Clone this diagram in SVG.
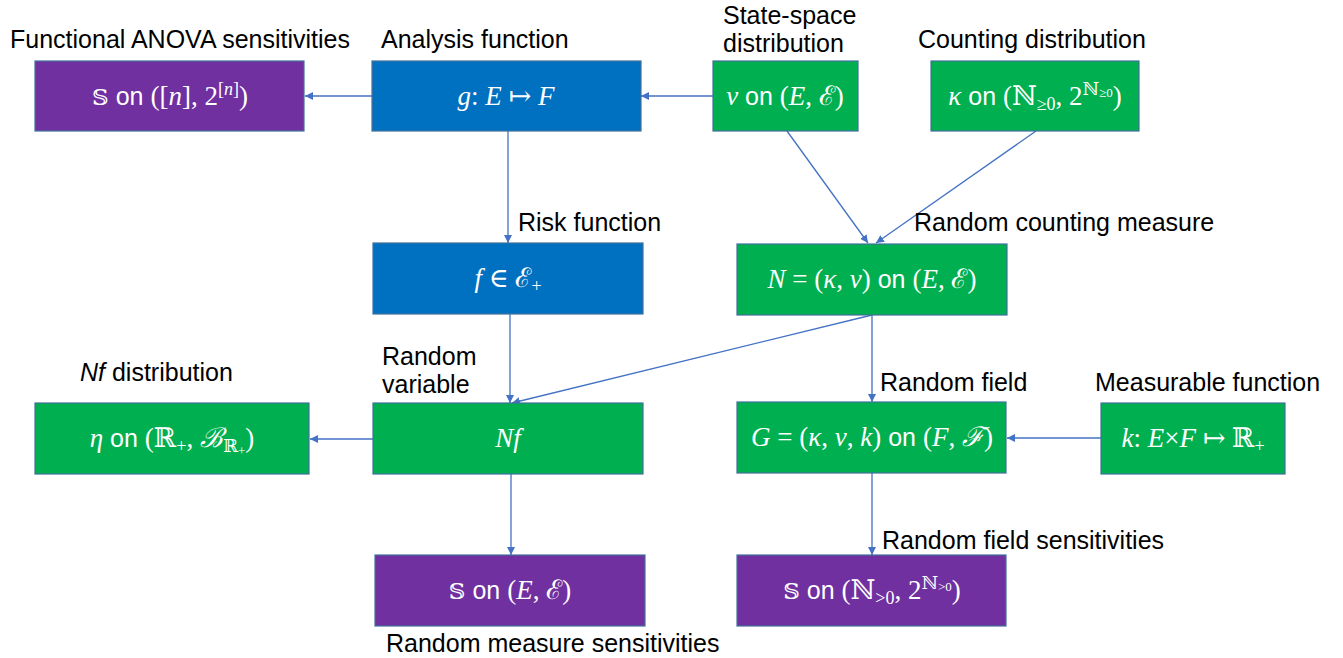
<svg xmlns="http://www.w3.org/2000/svg" width="1343" height="658" viewBox="0 0 1343 658">
<style>
  .box { stroke: #41719C; stroke-width: 1.2; }
  .purple { fill: #7030A0; }
  .blue { fill: #0070C0; }
  .green { fill: #00B050; }
  .lbl { font-family: "Liberation Sans", Arial, sans-serif; font-size: 25px; fill: #000; }
  .bt { font-family: "Liberation Sans", Arial, sans-serif; font-size: 25px; fill: #fff; text-anchor: middle; }
  .m { font-family: "Liberation Serif", "DejaVu Serif", serif; font-style: italic; font-size: 27px; }
  .r { font-family: "Liberation Serif", "DejaVu Serif", serif; font-size: 27px; }
  .ds { font-family: "DejaVu Serif", "DejaVu Sans", serif; font-size: 23px; }
  .sub { font-size: 18px; }
  .ss { font-size: 13px; }
  .conn line { stroke: #4472C4; stroke-width: 1.3; fill: none; marker-end: url(#arr); }
</style>
<defs>
  <marker id="arr" viewBox="0 0 10 10" refX="10" refY="5" markerWidth="8" markerHeight="8" markerUnits="userSpaceOnUse" orient="auto">
    <path d="M0,0 L10,5 L0,10 Z" fill="#4472C4"/>
  </marker>
</defs>

<g id="connectors" class="conn">
  <line x1="372" y1="96" x2="305" y2="96"/>
  <line x1="713" y1="96" x2="641" y2="96"/>
  <line x1="508" y1="131" x2="508" y2="243"/>
  <line x1="787" y1="131" x2="868" y2="243"/>
  <line x1="1036" y1="131" x2="876" y2="243"/>
  <line x1="510" y1="314" x2="510" y2="403"/>
  <line x1="872" y1="315" x2="512" y2="403"/>
  <line x1="872" y1="315" x2="872" y2="402"/>
  <line x1="373" y1="439" x2="310" y2="439"/>
  <line x1="1101" y1="438" x2="1007" y2="438"/>
  <line x1="511" y1="474" x2="511" y2="555"/>
  <line x1="872" y1="473" x2="872" y2="555"/>
</g>

<g id="anova">
  <text class="lbl" x="10" y="48">Functional ANOVA sensitivities</text>
  <rect class="box purple" x="35" y="61" width="269" height="70"/>
  <text class="bt" x="170" y="105"><tspan class="ds">𝕊</tspan> on <tspan class="r">([</tspan><tspan class="m">n</tspan><tspan class="r">], 2</tspan><tspan class="sub r" dy="-10">[</tspan><tspan class="sub m">n</tspan><tspan class="sub r">]</tspan><tspan class="r" dy="10">)</tspan></text>
</g>

<g id="analysis">
  <text class="lbl" x="381" y="48">Analysis function</text>
  <rect class="box blue" x="372" y="61" width="269" height="70"/>
  <text class="bt" x="506" y="105"><tspan class="m">g</tspan><tspan class="r">:  </tspan><tspan class="m">E</tspan><tspan class="r"> ↦ </tspan><tspan class="m">F</tspan></text>
</g>

<g id="statespace">
  <text class="lbl" x="723" y="24">State-space</text>
  <text class="lbl" x="723" y="52">distribution</text>
  <rect class="box green" x="713" y="61" width="145" height="70"/>
  <text class="bt" x="785" y="105"><tspan class="m">ν</tspan> on <tspan class="r">(</tspan><tspan class="m">E</tspan><tspan class="r">, ℰ)</tspan></text>
</g>

<g id="counting">
  <text class="lbl" x="918" y="48">Counting distribution</text>
  <rect class="box green" x="931" y="61" width="208" height="70"/>
  <text class="bt" x="1035" y="105"><tspan class="m">κ</tspan> on <tspan class="r">(ℕ</tspan><tspan class="sub r" dy="5">≥0</tspan><tspan class="r" dy="-5">, 2</tspan><tspan class="sub r" dy="-10">ℕ</tspan><tspan class="r ss" dy="2">≥0</tspan><tspan class="r" dy="8">)</tspan></text>
</g>

<g id="risk">
  <text class="lbl" x="518" y="231">Risk function</text>
  <rect class="box blue" x="373" y="243" width="270" height="71"/>
  <text class="bt" x="508" y="287"><tspan class="m">f</tspan><tspan class="r"> ∈ ℰ</tspan><tspan class="sub r" dy="5">+</tspan></text>
</g>

<g id="rcm">
  <text class="lbl" x="914" y="231">Random counting measure</text>
  <rect class="box green" x="737" y="244" width="270" height="71"/>
  <text class="bt" x="872" y="288"><tspan class="m">N</tspan><tspan class="r"> = (</tspan><tspan class="m">κ</tspan><tspan class="r">, </tspan><tspan class="m">ν</tspan><tspan class="r">)</tspan> on <tspan class="r">(</tspan><tspan class="m">E</tspan><tspan class="r">, ℰ)</tspan></text>
</g>

<g id="nfdist">
  <text class="lbl" x="80" y="381"><tspan font-style="italic">Nf</tspan> distribution</text>
  <rect class="box green" x="35" y="403" width="274" height="71"/>
  <text class="bt" x="172" y="447"><tspan class="m">η</tspan> on <tspan class="r">(ℝ</tspan><tspan class="sub r" dy="5">+</tspan><tspan class="r" dy="-5">, </tspan><tspan class="m">ℬ</tspan><tspan class="sub r" dy="5">ℝ</tspan><tspan class="r ss" dy="3">+</tspan><tspan class="r" dy="-8">)</tspan></text>
</g>

<g id="randvar">
  <text class="lbl" x="382" y="365">Random</text>
  <text class="lbl" x="382" y="393">variable</text>
  <rect class="box green" x="373" y="403" width="270" height="71"/>
  <text class="bt" x="508" y="447"><tspan class="m">Nf</tspan></text>
</g>

<g id="randfield">
  <text class="lbl" x="880" y="391">Random field</text>
  <rect class="box green" x="737" y="402" width="269" height="71"/>
  <text class="bt" x="872" y="446"><tspan class="m">G</tspan><tspan class="r"> = (</tspan><tspan class="m">κ</tspan><tspan class="r">, </tspan><tspan class="m">ν</tspan><tspan class="r">, </tspan><tspan class="m">k</tspan><tspan class="r">)</tspan> on <tspan class="r">(</tspan><tspan class="m">F</tspan><tspan class="r">, </tspan><tspan class="m">ℱ</tspan><tspan class="r">)</tspan></text>
</g>

<g id="measfunc">
  <text class="lbl" x="1095" y="391">Measurable function</text>
  <rect class="box green" x="1101" y="403" width="184" height="71"/>
  <text class="bt" x="1193" y="447"><tspan class="m">k</tspan><tspan class="r">: </tspan><tspan class="m">E</tspan><tspan class="r">×</tspan><tspan class="m">F</tspan><tspan class="r"> ↦ ℝ</tspan><tspan class="sub r" dy="5">+</tspan></text>
</g>

<g id="rmsens">
  <rect class="box purple" x="375" y="555" width="270" height="71"/>
  <text class="bt" x="510" y="599"><tspan class="ds">𝕊</tspan> on <tspan class="r">(</tspan><tspan class="m">E</tspan><tspan class="r">, ℰ)</tspan></text>
  <text class="lbl" x="386" y="652">Random measure sensitivities</text>
</g>

<g id="rfsens">
  <text class="lbl" x="882" y="549">Random field sensitivities</text>
  <rect class="box purple" x="737" y="555" width="269" height="71"/>
  <text class="bt" x="872" y="599"><tspan class="ds">𝕊</tspan> on <tspan class="r">(ℕ</tspan><tspan class="sub r" dy="5">&gt;0</tspan><tspan class="r" dy="-5">, 2</tspan><tspan class="sub r" dy="-10">ℕ</tspan><tspan class="r ss" dy="2">&gt;0</tspan><tspan class="r" dy="8">)</tspan></text>
</g>
</svg>
